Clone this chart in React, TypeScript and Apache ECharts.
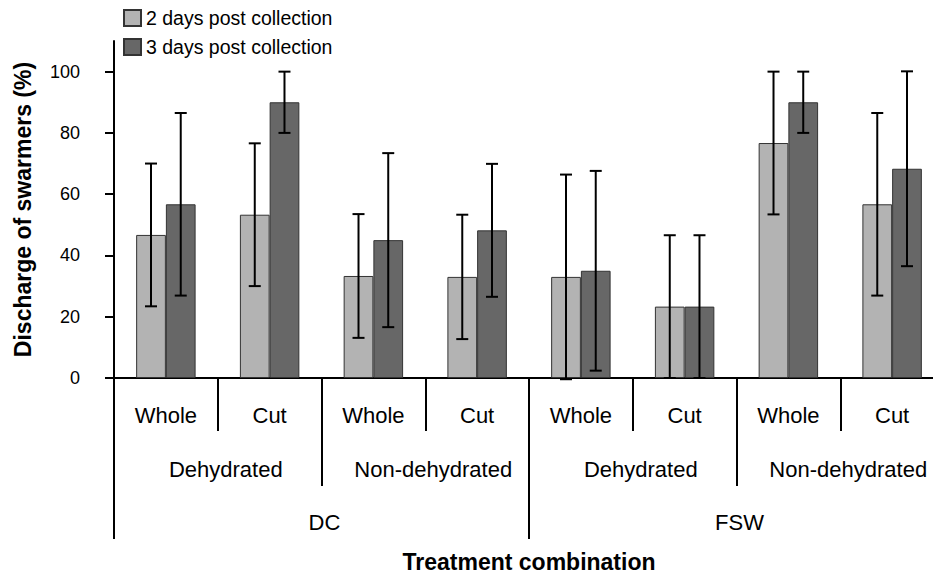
import React, { useEffect, useRef } from "react";
import * as echarts from "echarts";

const subCategories = ["Whole", "Cut", "Whole", "Cut", "Whole", "Cut", "Whole", "Cut"];
const stateCategories = ["Dehydrated", "Non-dehydrated", "Dehydrated", "Non-dehydrated"];
const mediumCategories = ["DC", "FSW"];
const seriesNames = ["2 days post collection", "3 days post collection"];
const day2Values = [46.7, 53.3, 33.3, 33.0, 33.0, 23.3, 76.7, 56.7];
const day2Errors = [23.3, 23.3, 20.2, 20.3, 33.4, 23.3, 23.3, 29.8];
const day3Values = [56.7, 90.0, 45.0, 48.2, 35.0, 23.3, 90.0, 68.3];
const day3Errors = [29.8, 10.0, 28.4, 21.7, 32.6, 23.3, 10.0, 31.8];
const yTicks = [0, 20, 40, 60, 80, 100];

const FONT = "'Liberation Sans', Arial, Helvetica, sans-serif";
const CAT_GAP = 0.427;

function errorSeries(name: string, values: number[], errs: number[], side: number) {
  return {
    type: "custom",
    name,
    xAxisIndex: 0,
    yAxisIndex: 0,
    z: 10,
    silent: true,
    data: values.map((v, i) => [i, v - errs[i], v + errs[i]]),
    encode: { x: 0, y: [1, 2] },
    renderItem: (params: any, api: any) => {
      const idx = api.value(0);
      const lo = api.coord([idx, api.value(1)]);
      const hi = api.coord([idx, api.value(2)]);
      const band = api.size([1, 0])[0];
      const x = lo[0] + (side * band * (1 - CAT_GAP)) / 4;
      const cap = 6;
      const st = { stroke: "#000", lineWidth: 2 };
      return {
        type: "group",
        children: [
          { type: "line", shape: { x1: x, y1: hi[1], x2: x, y2: lo[1] }, style: st },
          { type: "line", shape: { x1: x - cap, y1: hi[1], x2: x + cap, y2: hi[1] }, style: st },
          { type: "line", shape: { x1: x - cap, y1: lo[1], x2: x + cap, y2: lo[1] }, style: st },
        ],
      };
    },
  };
}

export default function App() {
  const ref = useRef<HTMLDivElement>(null);
  useEffect(() => {
    if (!ref.current) return;
    const chart = echarts.init(ref.current, null, { renderer: "svg" });
    const tickStyle = { color: "#000", width: 2 };
    chart.setOption({
      animation: false,
      backgroundColor: "#fff",
      textStyle: { fontFamily: FONT },
      legend: {
        data: seriesNames,
        orient: "vertical",
        left: 118,
        top: 3,
        itemWidth: 17,
        itemHeight: 16,
        itemGap: 9,
        icon: "rect",
        textStyle: { fontSize: 19.5, color: "#000", fontFamily: FONT },
      },
      grid: {
        left: 114,
        right: -11,
        top: 41,
        bottom: 197,
        containLabel: false,
        outerBoundsMode: "none",
      },
      xAxis: [
        {
          type: "category",
          data: subCategories,
          position: "bottom",
          axisLine: { show: true, lineStyle: tickStyle },
          axisTick: { show: true, length: 53, interval: 0, lineStyle: tickStyle },
          axisLabel: { interval: 0, margin: 26, fontSize: 22, color: "#000", fontFamily: FONT },
          name: "Treatment combination",
          nameLocation: "middle",
          nameGap: 172,
          nameTextStyle: { fontSize: 23, fontWeight: "bold", color: "#000", fontFamily: FONT },
          splitLine: { show: false },
        },
        {
          type: "category",
          data: stateCategories,
          position: "bottom",
          axisLine: { show: false },
          axisTick: { show: true, length: 108, interval: 0, lineStyle: tickStyle },
          axisLabel: {
            interval: 0,
            margin: 80,
            fontSize: 22,
            color: "#000",
            fontFamily: FONT,
            padding: [0, 0, 0, 16],
          },
          splitLine: { show: false },
        },
        {
          type: "category",
          data: mediumCategories,
          position: "bottom",
          axisLine: { show: false },
          axisTick: { show: true, length: 161, interval: 0, lineStyle: tickStyle },
          axisLabel: {
            interval: 0,
            margin: 133,
            fontSize: 22,
            color: "#000",
            fontFamily: FONT,
            padding: [0, 0, 0, 6],
          },
          splitLine: { show: false },
        },
      ],
      yAxis: {
        type: "value",
        min: 0,
        max: 110,
        name: "Discharge of swarmers (%)",
        nameLocation: "middle",
        nameGap: 80,
        nameTextStyle: { fontSize: 23, fontWeight: "bold", color: "#000", fontFamily: FONT },
        axisLine: { show: true, lineStyle: tickStyle },
        axisTick: { show: true, length: 9, lineStyle: tickStyle, customValues: yTicks },
        axisLabel: { margin: 34, fontSize: 18, color: "#000", fontFamily: FONT, customValues: yTicks },
        splitLine: { show: false },
      },
      series: [
        {
          type: "bar",
          name: seriesNames[0],
          data: day2Values,
          barGap: "0%",
          barCategoryGap: CAT_GAP * 100 + "%",
          itemStyle: { color: "#b3b3b3", borderColor: "#333", borderWidth: 1 },
        },
        {
          type: "bar",
          name: seriesNames[1],
          data: day3Values,
          barGap: "0%",
          barCategoryGap: CAT_GAP * 100 + "%",
          itemStyle: { color: "#676767", borderColor: "#333", borderWidth: 1 },
        },
        errorSeries("err2", day2Values, day2Errors, -1),
        errorSeries("err3", day3Values, day3Errors, 1),
      ],
    });
    return () => chart.dispose();
  }, []);
  return (
    <div
      ref={ref}
      style={{ position: "fixed", left: 0, top: 0, width: 933, height: 575 }}
    />
  );
}
